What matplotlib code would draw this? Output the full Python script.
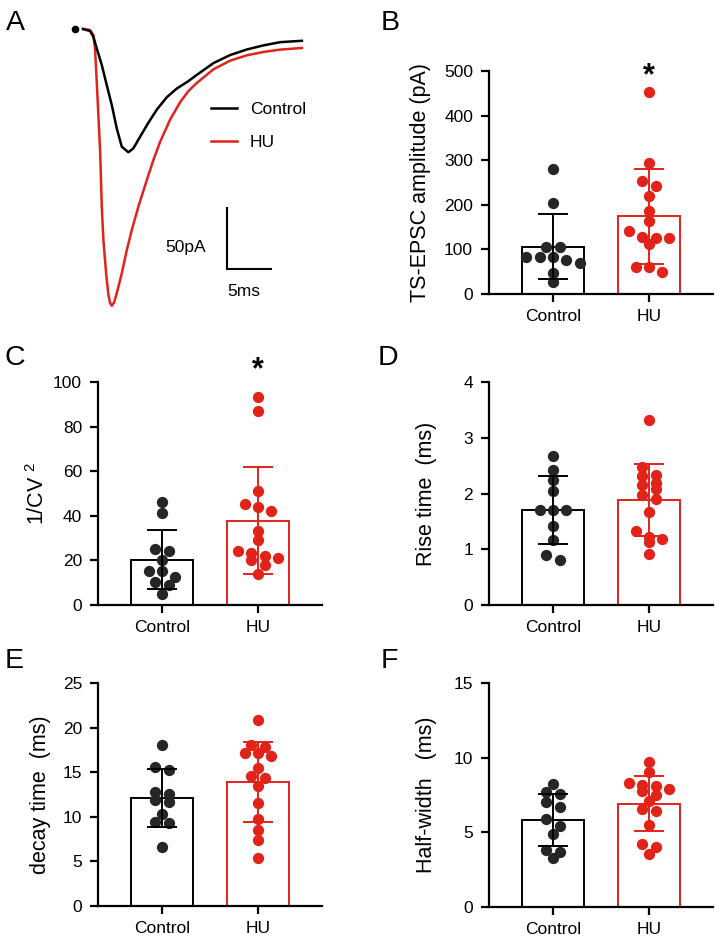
"""Traces and summary bar/scatter plots, Control vs HU."""
import matplotlib.pyplot as plt
import numpy as np

plt.rcParams["font.family"] = ["Liberation Sans", "DejaVu Sans"]
plt.rcParams["mathtext.fontset"] = "custom"
plt.rcParams["mathtext.rm"] = "Liberation Sans"
plt.rcParams["mathtext.default"] = "rm"

groups = ["Control", "HU"]

# panel A: example traces, time in ms, current in pA
ctrl_t = [0, 0.78, 1.14, 1.52, 2.08, 2.63, 3.19, 3.74, 4.30, 5.03, 5.59, 6.33,
          7.26, 8.19, 9.30, 10.41, 11.70, 12.63, 14.48, 16.33, 18.19, 20.03,
          21.89, 24.3]
ctrl_i = [0, -1.6, -6.2, -15.6, -29.0, -45.2, -61.3, -80.1, -94.9, -99.4,
          -96.2, -86.9, -75.5, -65.0, -55.0, -48.0, -42.0, -37.0, -27.5, -21.0,
          -16.5, -13.2, -10.6, -9.5]
hu_t = [0, 0.78, 1.14, 1.33, 1.52, 1.70, 1.89, 1.97, 2.08, 2.26, 2.56, 2.81,
        3.00, 3.19, 3.45, 3.74, 4.30, 4.86, 5.41, 6.14, 7.08, 7.81, 8.56, 9.67,
        10.78, 11.70, 12.63, 14.48, 16.33, 18.19, 20.03, 21.89, 24.3]
hu_i = [0, -0.8, -4.8, -15.6, -42.5, -69.4, -97.6, -116.4, -143.3, -170.2,
        -197.0, -214.0, -221.0, -223.1, -220.5, -213.1, -197.0, -178.2, -162.1,
        -143.3, -121.8, -105.6, -90.9, -73.0, -59.0, -50.0, -43.5, -32.5,
        -25.5, -21.2, -18.5, -16.6, -15.3]
stim_t = [-0.9]
stim_i = [0]

# panels B-F: individual cells
amp_ctrl = [280, 205, 105, 105, 84, 84, 84, 76, 70, 46, 28]
amp_hu = [454, 293, 254, 242, 220, 187, 164, 141, 127, 126, 126, 113, 61, 61, 50]
cv_ctrl = [46.2, 41.1, 25.1, 24.2, 20.2, 15.2, 15.2, 12.6, 10.2, 9.1, 4.9]
cv_hu = [93.1, 87.0, 51.0, 45.1, 44.1, 42.2, 33.2, 29.0, 24.1, 23.3, 22.1,
         21.2, 20.2, 18.1, 14.1]
rise_ctrl = [2.68, 2.42, 2.24, 2.04, 1.71, 1.71, 1.71, 1.41, 1.17, 0.90, 0.81]
rise_hu = [3.31, 2.47, 2.33, 2.32, 2.19, 2.16, 2.08, 1.98, 1.90, 1.67, 1.33,
           1.22, 1.19, 1.13, 0.92]
decay_ctrl = [18.0, 15.6, 15.3, 12.8, 12.6, 11.9, 11.7, 10.3, 9.4, 9.3, 6.6]
decay_hu = [20.8, 18.1, 17.8, 17.2, 17.1, 16.8, 15.5, 14.6, 14.4, 13.5, 11.6,
            9.7, 8.5, 7.4, 5.4]
hw_ctrl = [8.22, 7.68, 7.54, 7.03, 6.72, 5.89, 5.42, 4.88, 3.81, 3.65, 3.25]
hw_hu = [9.69, 9.02, 8.33, 8.19, 8.10, 7.92, 7.75, 7.50, 7.12, 6.56, 6.42,
         5.48, 4.23, 4.01, 3.54]

RED = "#e2231a"
DOT_BLACK = "#262626"
W, H = 722, 946


def px_axes(fig, left, top, right, bottom):
    """Add axes given in pixel coordinates of the final image."""
    return fig.add_axes([left / W, 1 - bottom / H, (right - left) / W, (bottom - top) / H])


def row_offsets(values, tol, step=0.14):
    """Prism-like scatter: similar values share a row, centred on the bar."""
    values = np.asarray(values, dtype=float)
    order = np.argsort(-values, kind="stable")
    rows, row = [], [order[0]]
    for idx in order[1:]:
        if values[row[0]] - values[idx] < tol:
            row.append(idx)
        else:
            rows.append(row)
            row = [idx]
    rows.append(row)
    offs = np.zeros(len(values))
    for r in rows:
        n = len(r)
        for k, idx in enumerate(r):
            offs[idx] = (k - (n - 1) / 2) * step
    return offs


def bar_panel(ax, ctrl, hu, ymax, ystep, ylabel, label_x, star_y=None):
    for i, (vals, edge, dot) in enumerate(((ctrl, "black", DOT_BLACK), (hu, RED, RED))):
        vals = np.asarray(vals, dtype=float)
        m, sd = vals.mean(), vals.std(ddof=1)
        ax.bar(i, m, width=0.65, facecolor="white", edgecolor=edge, linewidth=1.4, zorder=1)
        offs = row_offsets(vals, tol=0.036 * ymax)
        ax.scatter(i + offs, vals, s=66, color=dot, linewidths=0, zorder=3, clip_on=False)
        ax.errorbar(i, m, yerr=sd, fmt="none", ecolor=edge, elinewidth=1.4,
                    capsize=11, capthick=1.4, zorder=4)
    ax.set_xlim(-0.667, 1.667)
    ax.set_ylim(0, ymax)
    ax.set_yticks(np.arange(0, ymax + ystep / 2, ystep))
    ax.set_xticks([0, 1], groups)
    ax.spines[["top", "right"]].set_visible(False)
    for s in ("left", "bottom"):
        ax.spines[s].set_linewidth(1.6)
    ax.tick_params(axis="both", width=1.6, length=6, labelsize=12.5)
    ax.tick_params(axis="x", pad=4.5, labelsize=12.5)
    ax.tick_params(axis="y", pad=5.5)
    ax.set_ylabel(ylabel, fontsize=15.5)
    ax.yaxis.set_label_coords(label_x, 0.5)
    if star_y is not None:
        ax.text(1, star_y, "*", ha="center", va="baseline", fontsize=22,
                fontweight="bold", clip_on=False)


def main():
    fig = plt.figure(figsize=(W / 100, H / 100), dpi=100)

    # A: traces
    ax = px_axes(fig, 60, 15, 310, 315)
    ax.set_xlim(-2.56, 25.2)
    ax.set_ylim(-230.6, 11.3)
    ax.axis("off")
    (l_hu,) = ax.plot(hu_t, hu_i, color=RED, lw=1.8, label="HU")
    (l_ctrl,) = ax.plot(ctrl_t, ctrl_i, color="black", lw=1.8, label="Control")
    ax.plot(stim_t, stim_i, "o", color="black", ms=4.5)
    ax.legend(handles=[l_ctrl, l_hu], loc="center left", bbox_to_anchor=(0.604, 0.63),
              frameon=False, fontsize=12.5, handlelength=1.5, handletextpad=0.75,
              labelspacing=1.0, borderpad=0, borderaxespad=0)
    # scale bar: 5 ms x 50 pA
    x0, y0 = 16.0, -193.5
    ax.plot([x0, x0, x0 + 5], [y0 + 50, y0, y0], color="black", lw=1.5,
            solid_capstyle="butt", solid_joinstyle="miter")
    ax.text(x0 - 2.4, y0 + 17.7, "50pA", ha="right", va="center", fontsize=12.5)
    ax.text(x0, y0 - 18.5, "5ms", ha="left", va="center", fontsize=12.5)

    axB = px_axes(fig, 489, 71, 713, 294)
    bar_panel(axB, amp_ctrl, amp_hu, 500, 100, "TS-EPSC amplitude (pA)", -0.259, star_y=471)
    axC = px_axes(fig, 98, 382, 322, 605)
    bar_panel(axC, cv_ctrl, cv_hu, 100, 20, r"1/CV $^{2}$", -0.219, star_y=101.5)
    axD = px_axes(fig, 489, 382, 713, 605)
    bar_panel(axD, rise_ctrl, rise_hu, 4, 1, "Rise time  (ms)", -0.232)
    axE = px_axes(fig, 98, 683, 322, 906)
    bar_panel(axE, decay_ctrl, decay_hu, 25, 5, "decay time  (ms)", -0.21)
    axF = px_axes(fig, 489, 683, 713, 907)
    bar_panel(axF, hw_ctrl, hw_hu, 15, 5, "Half-width   (ms)", -0.232)

    for letter, x, y in (("A", 6, 29.5), ("B", 381, 30), ("C", 5, 365),
                         ("D", 378, 365), ("E", 5, 668), ("F", 381, 668)):
        fig.text(x / W, 1 - y / H, letter, fontsize=20.5, ha="left", va="baseline")

    fig.savefig("out.png", dpi=100)


if __name__ == "__main__":
    main()
